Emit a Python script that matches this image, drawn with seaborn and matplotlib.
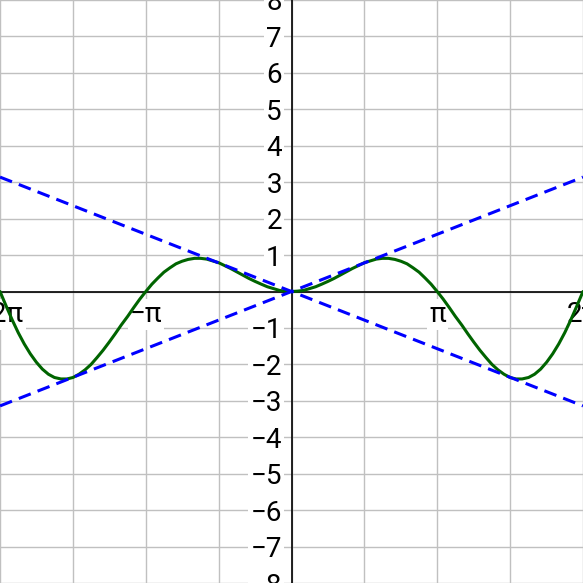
import numpy as np
import matplotlib
matplotlib.use("Agg")
import matplotlib.pyplot as plt
import seaborn as sns

# curve samples (x in radians)
curve_x = [-6.283, -6.15, -6.02, -5.89, -5.76, -5.63, -5.50, -5.37, -5.24, -5.11,
           -4.97, -4.84, -4.71, -4.58, -4.45, -4.32, -4.19, -4.06, -3.93, -3.80,
           -3.67, -3.53, -3.40, -3.27, -3.14, -3.01, -2.88, -2.75, -2.62, -2.49,
           -2.36, -2.23, -2.09, -1.96, -1.83, -1.70, -1.57, -1.44, -1.31, -1.18,
           -1.05, -0.92, -0.79, -0.65, -0.52, -0.39, -0.26, -0.13, 0.0,
           0.13, 0.26, 0.39, 0.52, 0.65, 0.79, 0.92, 1.05, 1.18, 1.31,
           1.44, 1.57, 1.70, 1.83, 1.96, 2.09, 2.23, 2.36, 2.49, 2.62,
           2.75, 2.88, 3.01, 3.14, 3.27, 3.40, 3.53, 3.67, 3.80, 3.93,
           4.06, 4.19, 4.32, 4.45, 4.58, 4.71, 4.84, 4.97, 5.11, 5.24,
           5.37, 5.50, 5.63, 5.76, 5.89, 6.02, 6.15, 6.283]
curve_y = [0.0, -0.40, -0.78, -1.13, -1.44, -1.71, -1.94, -2.13, -2.27, -2.36,
           -2.40, -2.40, -2.36, -2.27, -2.15, -2.00, -1.81, -1.61, -1.39, -1.16,
           -0.92, -0.68, -0.44, -0.21, 0.0, 0.20, 0.37, 0.53, 0.65, 0.76,
           0.83, 0.88, 0.91, 0.91, 0.89, 0.84, 0.79, 0.71, 0.63, 0.54,
           0.45, 0.36, 0.28, 0.20, 0.13, 0.08, 0.03, 0.01, 0.0,
           0.01, 0.03, 0.08, 0.13, 0.20, 0.28, 0.36, 0.45, 0.54, 0.63,
           0.71, 0.79, 0.84, 0.89, 0.91, 0.91, 0.88, 0.83, 0.76, 0.65,
           0.53, 0.37, 0.20, 0.0, -0.21, -0.44, -0.68, -0.92, -1.16, -1.39,
           -1.61, -1.81, -2.00, -2.15, -2.27, -2.36, -2.40, -2.40, -2.36, -2.27,
           -2.13, -1.94, -1.71, -1.44, -1.13, -0.78, -0.40, 0.0]

# the two dashed envelope lines
line_x = [-6.283, 6.283]
rising_y = [-3.14, 3.14]
falling_y = [3.14, -3.14]

x_tick_pos = [-2 * np.pi, -np.pi, np.pi, 2 * np.pi]
x_tick_labels = ["\u22122\u03c0", "\u2212\u03c0", "\u03c0", "2\u03c0"]
x_grid_pos = [k * np.pi / 2 for k in range(-4, 5)]
y_tick_pos = [v for v in range(-8, 9) if v != 0]

sns.set_style("white")
plt.rcParams["font.family"] = ["Roboto", "DejaVu Sans"]
plt.rcParams["axes.unicode_minus"] = True

fig = plt.figure(figsize=(5.83, 5.83), dpi=100)
ax = fig.add_axes([0, 0, 1, 1])

sns.lineplot(x=curve_x, y=curve_y, sort=False, color="#006400", linewidth=2.2,
             ax=ax, zorder=3)
sns.lineplot(x=line_x, y=rising_y, sort=False, color="#0000ff", linewidth=2.2,
             linestyle=(0, (4.2, 2.4)), ax=ax, zorder=4)
sns.lineplot(x=line_x, y=falling_y, sort=False, color="#0000ff", linewidth=2.2,
             linestyle=(0, (4.2, 2.4)), ax=ax, zorder=4)

ax.set_xlim(-2 * np.pi, 2 * np.pi)
ax.set_ylim(-8, 8)

# grid lines drawn by hand so label ticks don't swallow them
for gx in x_grid_pos:
    ax.axvline(gx, color="#c0c0c0", linewidth=1.0, zorder=0)
for gy in range(-8, 9):
    ax.axhline(gy, color="#c0c0c0", linewidth=1.0, zorder=0)

# axes through the origin
for side in ["top", "right"]:
    ax.spines[side].set_visible(False)
for side in ["left", "bottom"]:
    ax.spines[side].set_position("zero")
    ax.spines[side].set_color("black")
    ax.spines[side].set_linewidth(1.2)
    ax.spines[side].set_zorder(2)

ax.set_xticks(x_tick_pos)
ax.set_xticklabels(x_tick_labels)
ax.set_yticks(y_tick_pos)
ax.set_yticklabels(["\u2212" + str(-v) if v < 0 else str(v) for v in y_tick_pos])
ax.tick_params(which="both", length=0, labelcolor="black")
ax.tick_params(axis="x", pad=7, labelsize=20)
ax.tick_params(axis="y", pad=7, labelsize=20)

for lab in ax.get_xticklabels() + ax.get_yticklabels():
    lab.set_bbox(dict(facecolor="white", edgecolor="none", pad=1.5))
    lab.set_zorder(1)

fig.savefig("out.png", dpi=100)
